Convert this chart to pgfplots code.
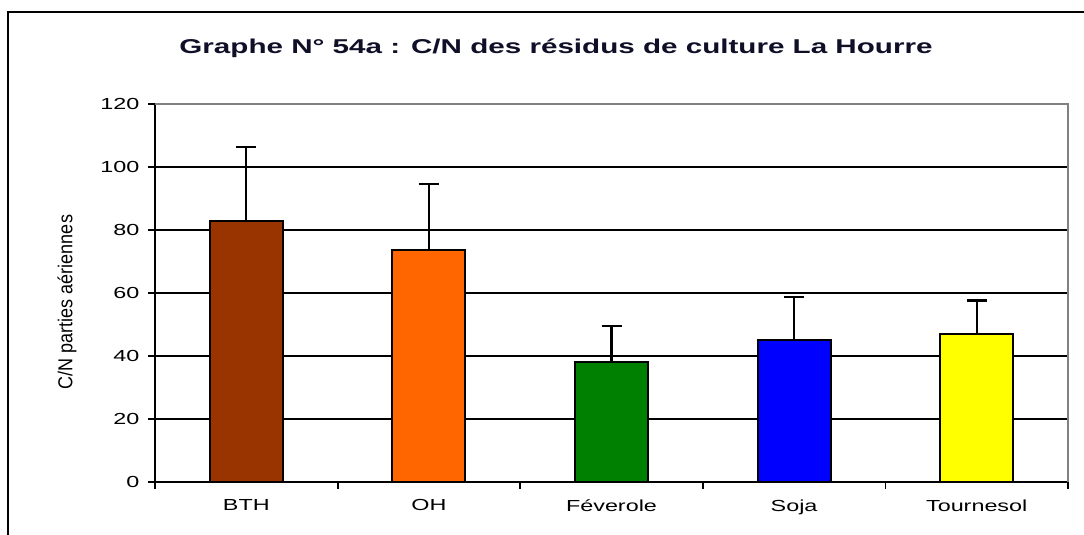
\documentclass[border=0pt]{standalone}
\usepackage{fontspec}
\setmainfont{Liberation Sans}
\usepackage{graphicx}
\usepackage{pgfplots}
\pgfplotsset{compat=1.18}
\newcommand\sx[1]{\scalebox{1.46}[1]{#1}}
\definecolor{cBTH}{HTML}{993300}
\definecolor{cOH}{HTML}{FF6600}
\definecolor{cFev}{HTML}{008000}
\definecolor{cSoja}{HTML}{0000FF}
\definecolor{cTour}{HTML}{FFFF00}
\pgfplotsset{
  errbar/.style={ybar, bar shift=0pt, bar width=73pt, draw=black, line width=2pt,
    error bars/y dir=plus, error bars/y explicit,
    error bars/error bar style={line width=2.2pt, draw=black, solid},
    error bars/error mark=-,
    error bars/error mark options={rotate=90, line width=2.2pt, draw=black, mark size=10pt}}
}
\begin{document}
\begin{tikzpicture}
\path[use as bounding box] (0pt,0pt) rectangle (1084pt,535pt);
\draw[line width=2pt] (8pt,-5pt) -- (8pt,523pt) -- (1090pt,523pt);
\node[font=\bfseries\fontsize{20}{24}\selectfont, text={rgb,255:red,15;green,15;blue,40}] at (556pt,487pt) {\scalebox{1.48}[1]{Graphe N° 54a : C/N des résidus de culture La Hourre}};
\node at (67pt,233pt) {\scalebox{1.12}[1]{\rotatebox{90}{\fontsize{18}{20}\selectfont C/N parties aériennes}}};
\begin{axis}[at={(155pt,53pt)}, anchor=south west, scale only axis,
  width=913pt, height=378pt,
  xmin=-0.5, xmax=4.5, ymin=0, ymax=120,
  axis lines*=left,
  axis line style={line width=2pt, black},
  ytick={0,20,...,120},
  yticklabels={\sx{0},\sx{20},\sx{40},\sx{60},\sx{80},\sx{100},\sx{120}},
  xtick={0,1,2,3,4},
  xticklabels={\sx{BTH},\sx{OH},\sx{Féverole},\sx{Soja},\sx{Tournesol}},
  minor xtick={-0.5,0.5,1.5,2.5,3.5,4.5},
  tick align=outside,
  x tick style={draw=none},
  minor x tick style={draw=black, line width=1.8pt},
  minor tick length=7pt,
  y tick style={line width=1.8pt, black},
  major tick length=7pt,
  ymajorgrids,
  grid style={line width=1.5pt, black},
  tick label style={font=\fontsize{16}{18}\selectfont},
  yticklabel style={xshift=-5pt},
  xticklabel style={yshift=-7pt},
  clip=false,
]
\addplot[errbar, fill=cBTH] coordinates {(0,82.9) +- (0,23.5)};
\addplot[errbar, fill=cOH] coordinates {(1,73.7) +- (0,20.8)};
\addplot[errbar, fill=cFev] coordinates {(2,38.2) +- (0,11.4)};
\addplot[errbar, fill=cSoja] coordinates {(3,45.0) +- (0,13.8)};
\addplot[errbar, fill=cTour] coordinates {(4,46.9) +- (0,10.7)};
\draw[line width=1.8pt, gray] (rel axis cs:0,1) -- (rel axis cs:1,1) -- (rel axis cs:1,0);
\end{axis}
\end{tikzpicture}
\end{document}
